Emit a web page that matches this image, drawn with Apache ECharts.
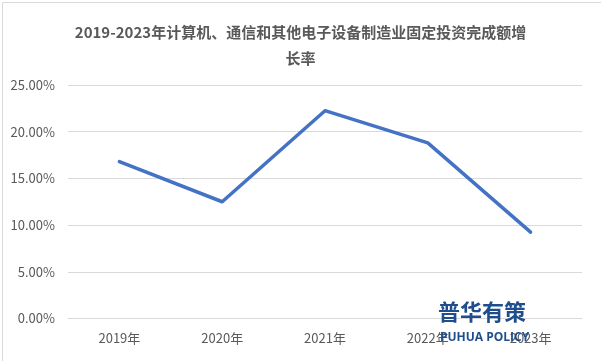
<!DOCTYPE html>
<html>
<head>
<meta charset="utf-8">
<script src="https://cdn.jsdelivr.net/npm/echarts@6/dist/echarts.min.js"></script>
<style>
html,body{margin:0;padding:0;background:#fff;}
#c{width:601px;height:361px;}
</style>
</head>
<body>
<div id="c"></div>
<script>
const categories = ['2019年', '2020年', '2021年', '2022年', '2023年'];
const growthRate = [16.8, 12.5, 22.25, 18.8, 9.25];
const titleText = '2019-2023年计算机、通信和其他电子设备制造业固定投资完成额增\n长率';
const yTicks = { min: 0, max: 25, interval: 5 };

const chart = echarts.init(document.getElementById('c'), null, { renderer: 'canvas' });
chart.setOption({
  backgroundColor: '#fff',
  animation: false,
  title: {
    text: titleText,
    left: 'center',
    top: 14,
    textStyle: {
      fontFamily: '"Noto Sans CJK SC", sans-serif',
      fontWeight: 'bold',
      fontSize: 15,
      color: '#595959',
      lineHeight: 26
    }
  },
  grid: { left: 68, right: 19, top: 85, bottom: 42.5, containLabel: false },
  xAxis: {
    type: 'category',
    data: categories,
    boundaryGap: true,
    axisLine: { lineStyle: { color: '#d9d9d9', width: 1 } },
    axisTick: { show: false },
    axisLabel: {
      margin: 13,
      fontSize: 13,
      color: '#595959',
      fontFamily: '"Noto Sans CJK SC", sans-serif'
    }
  },
  yAxis: {
    type: 'value',
    min: yTicks.min,
    max: yTicks.max,
    interval: yTicks.interval,
    axisLine: { show: false },
    axisTick: { show: false },
    splitLine: { lineStyle: { color: '#d9d9d9', width: 1 } },
    axisLabel: {
      margin: 13,
      fontSize: 13,
      color: '#595959',
      fontFamily: '"Noto Sans CJK SC", sans-serif',
      formatter: v => v.toFixed(2) + '%'
    }
  },
  series: [{
    type: 'line',
    data: growthRate,
    symbol: 'none',
    lineStyle: { color: '#4472C4', width: 3.5, cap: 'round', join: 'round' },
    itemStyle: { color: '#4472C4' },
    z: 3
  }],
  graphic: [
    {
      type: 'rect',
      left: 0, top: 0, z: 100, silent: true,
      shape: { x: 0.5, y: 0.5, width: 600, height: 360 },
      style: { fill: 'none', stroke: '#d9d9d9', lineWidth: 1 }
    },
    {
      type: 'text',
      z: 50,
      left: 438, top: 301,
      style: {
        text: '普华有策',
        fontFamily: '"Noto Sans CJK SC", sans-serif',
        fontWeight: 'bold',
        fontSize: 22,
        fill: '#1F4E8C'
      }
    },
    {
      type: 'text',
      z: 50,
      left: 440, top: 332,
      style: {
        text: 'PUHUA POLICY',
        fontFamily: '"Open Sans", sans-serif',
        fontWeight: 'bold',
        fontSize: 12,
        fill: '#1F4E8C'
      }
    }
  ]
});
</script>
</body>
</html>
